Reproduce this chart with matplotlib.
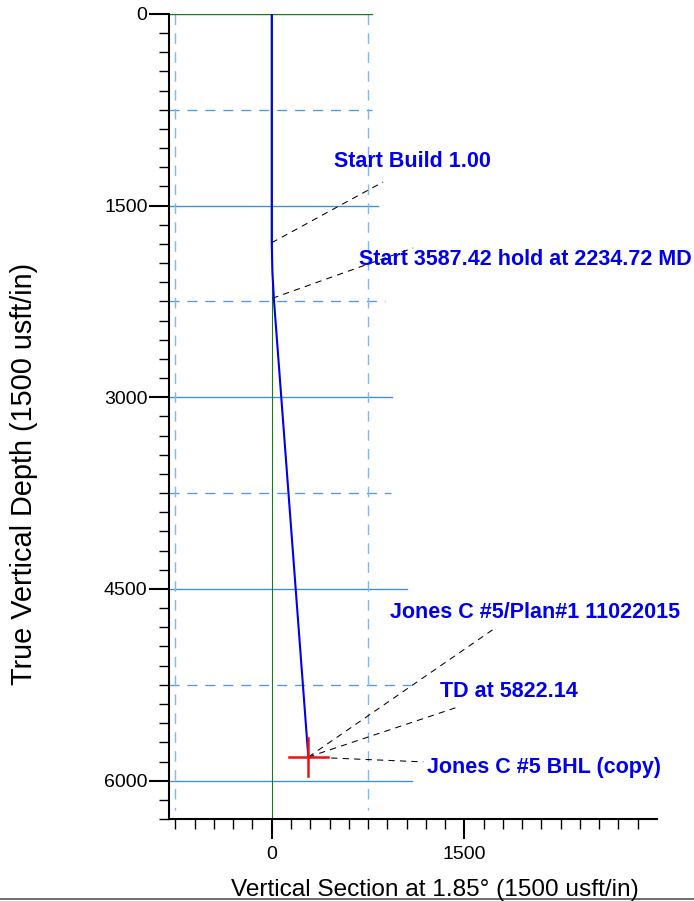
import matplotlib
matplotlib.use("Agg")
import matplotlib.pyplot as plt

plt.rcParams['font.family'] = ['Liberation Sans', 'DejaVu Sans']

# well path (vertical section, TVD)
vs = [0, 0, 5, 17, 285]
tvd = [0, 1790, 2015, 2234, 5815]

# grid lines: depth and right end
solid_h = [1500, 3000, 4500, 6000]
solid_end = [828, 937, 1055, 1094]
dash_h = [750, 2250, 3750, 5250]
dash_end = [781, 883, 930, 1085]
dash_v = [-750, 750]

# annotations: label, point on path, leader end, text pos
labels = ["Start Build 1.00",
          "Start 3587.42 hold at 2234.72 MD",
          "Jones C #5/Plan#1 11022015",
          "TD at 5822.14",
          "Jones C #5 BHL (copy)"]
pts = [(0, 1790), (5, 2225), (285, 5815), (285, 5815), (285, 5815)]
ends = [(867, 1315), (1102, 1831), (1719, 4820), (1430, 5430), (1180, 5853)]
txt = [(484, 1158), (680, 1925), (922, 4687), (1312, 5305), (1211, 5900)]

bhl = (285, 5815)

fig = plt.figure(figsize=(6.94, 9.01), dpi=100)
ax = fig.add_axes([0.2435, 0.091, 0.7032, 0.8935])

ax.set_xlim(-800, 3000)
ax.set_ylim(6300, 0)

for y, e in zip(solid_h, solid_end):
    ax.plot([-800, e], [y, y], color='#3a8ee8', lw=0.95, zorder=1)
for y, e in zip(dash_h, dash_end):
    ax.plot([-800, e], [y, y], color='#4a9af0', lw=0.95, dashes=(7.6, 6), zorder=1)
for x in dash_v:
    ax.plot([x, x], [0, 6230], color='#7ab8f8', lw=1.0, dashes=(7.6, 6), zorder=1)

ax.plot([-800, 781], [0, 0], color='#1a7a1a', lw=1.0, zorder=2)
ax.plot([0, 0], [0, 6300], color='#1a7a1a', lw=0.8, zorder=2)

ax.plot(vs, tvd, color='#0000ee', lw=1.5, zorder=4)

ax.plot([bhl[0] - 150, bhl[0] + 150], [bhl[1], bhl[1]], color='#ee1111', lw=1.8, zorder=5)
ax.plot([bhl[0], bhl[0]], [bhl[1] - 150, bhl[1] + 150], color='#ee1111', lw=1.8, zorder=5)

for lab, p, e, t in zip(labels, pts, ends, txt):
    ax.plot([p[0], e[0]], [p[1], e[1]], color='black', lw=0.75, dashes=(6, 5), zorder=3)
    ax.text(t[0], t[1], lab, color='#0000ee', fontsize=15.5, fontweight='bold',
            ha='left', va='center', zorder=6)

for s in ['top', 'right']:
    ax.spines[s].set_visible(False)
for s in ['left', 'bottom']:
    ax.spines[s].set_linewidth(1.5)

ax.set_xticks([0, 1500])
ax.set_xticks([x for x in range(-750, 3000, 150)], minor=True)
ax.set_yticks([0, 1500, 3000, 4500, 6000])
ax.set_yticks([y for y in range(0, 6301, 150)], minor=True)
ax.tick_params(which='major', length=14.4, width=1.5, labelsize=14)
ax.tick_params(axis='x', which='major', pad=5)
ax.tick_params(axis='y', which='major', pad=1)
ax.tick_params(which='minor', length=7.2, width=1.0)

fig.text(435 / 694, 1 - 896 / 901, "Vertical Section at 1.85\u00b0 (1500 usft/in)",
         fontsize=17.6, ha='center', va='baseline')
fig.text(24 / 694, 1 - 474 / 901, "True Vertical Depth (1500 usft/in)",
         fontsize=20.8, rotation=90, ha='center', va='center')

fig.add_artist(plt.Line2D([0, 1], [0.002, 0.002], color='#555555', lw=1.2))

fig.savefig("out.png", dpi=100)
